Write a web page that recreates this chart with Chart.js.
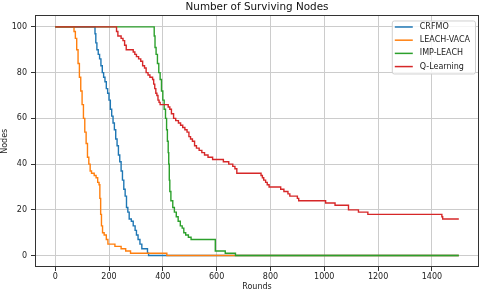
<!DOCTYPE html>
<html>
<head>
    <title>Number of Surviving Nodes</title>
    <script src="https://cdn.jsdelivr.net/npm/chart.js"></script>
    <style>
        body { margin: 0; background: #fff; }
    </style>
</head>
<body>
    <canvas id="nodesChart" width="480" height="292"></canvas>
    <script>
        // values (round where the count starts, nodes alive)
        const crfmoRounds = [0, 145, 148, 151, 155, 160, 165, 170, 175, 180, 185, 190, 195, 200, 205, 210, 215, 220, 225, 230, 235, 240, 245, 250, 255, 260, 265, 270, 275, 283, 290, 297, 302, 308, 315, 322, 343, 347, 1500];
        const crfmoNodes  = [100, 100, 97, 93, 90, 88, 86, 83, 80, 78, 76, 73, 71, 68, 64, 61, 58, 55, 51, 48, 44, 41, 37, 33, 29, 26, 21, 19, 16, 15, 13, 11, 9, 7, 5, 3, 1, 0, 0];

        const vacaRounds = [0, 65, 70, 75, 80, 85, 90, 95, 100, 105, 110, 115, 120, 125, 130, 135, 145, 152, 158, 163, 166, 169, 172, 176, 182, 190, 196, 222, 245, 262, 280, 415, 1500];
        const vacaNodes  = [100, 100, 98, 95, 90, 84, 78, 72, 66, 60, 54, 49, 43, 40, 37, 36, 35, 34, 32, 31, 25, 18, 13, 10, 9, 7, 5, 4, 3, 2, 1, 0, 0];

        const impRounds = [0, 365, 368, 371, 375, 380, 385, 390, 395, 400, 405, 410, 414, 417, 420, 422, 424, 426, 430, 437, 443, 450, 457, 465, 472, 478, 485, 495, 505, 595, 632, 670, 1500];
        const impNodes  = [100, 100, 96, 91, 88, 84, 80, 77, 72, 68, 64, 60, 55, 50, 45, 40, 33, 28, 24, 21, 19, 17, 15, 13, 12, 10, 9, 8, 7, 2, 1, 0, 0];

        const qlRounds = [0, 223, 228, 233, 245, 252, 258, 264, 290, 296, 302, 310, 318, 325, 332, 338, 345, 352, 362, 366, 370, 374, 378, 382, 386, 390, 420, 426, 432, 440, 448, 458, 466, 474, 482, 490, 497, 503, 510, 518, 525, 535, 545, 555, 568, 585, 625, 645, 660, 668, 675, 765, 770, 775, 782, 788, 795, 838, 850, 865, 872, 900, 905, 1005, 1040, 1090, 1127, 1162, 1437, 1440, 1500];
        const qlNodes  = [100, 100, 98, 96, 95, 94, 92, 90, 89, 88, 87, 86, 85, 83, 82, 80, 79, 78, 77, 75, 73, 71, 70, 68, 67, 66, 65, 64, 62, 60, 59, 58, 57, 56, 55, 54, 52, 51, 50, 48, 47, 46, 45, 44, 43, 42, 41, 40, 39, 38, 36, 35, 34, 33, 32, 31, 30, 29, 28, 27, 26, 25, 24, 23, 22, 20, 19, 18, 17, 16, 16];

        const seriesLabels = ['CRFMO', 'LEACH-VACA', 'IMP-LEACH', 'Q-Learning'];
        const seriesColors = ['#1f77b4', '#ff7f0e', '#2ca02c', '#d62728'];
        const xTicks = [0, 200, 400, 600, 800, 1000, 1200, 1400];
        const yTicks = [0, 20, 40, 60, 80, 100];

        const toPoints = (rounds, nodes) => rounds.map((r, i) => ({ x: r, y: nodes[i] }));
        const allSeries = [
            toPoints(crfmoRounds, crfmoNodes),
            toPoints(vacaRounds, vacaNodes),
            toPoints(impRounds, impNodes),
            toPoints(qlRounds, qlNodes)
        ];

        Chart.defaults.font.family = "'DejaVu Sans', sans-serif";
        Chart.defaults.color = '#222';

        // matplotlib-like frame and legend box inside the axes
        const frameAndLegend = {
            id: 'frameAndLegend',
            afterDatasetsDraw(chart) {
                const ctx = chart.ctx;
                const a = chart.chartArea;
                ctx.save();
                ctx.strokeStyle = '#333';
                ctx.lineWidth = 1;
                ctx.strokeRect(Math.round(a.left) + 0.5, Math.round(a.top) + 0.5,
                    Math.round(a.right - a.left) - 1, Math.round(a.bottom - a.top) - 1);

                ctx.font = "8px 'DejaVu Sans'";
                let maxW = 0;
                chart.data.datasets.forEach(ds => { maxW = Math.max(maxW, ctx.measureText(ds.label).width); });
                const w = 3 + 18 + 7 + maxW + 5;
                const h = 53;
                const left = a.right - 4 - w;
                const top = a.top + 5;
                ctx.beginPath();
                ctx.roundRect(left + 0.5, top + 0.5, w, h, 2);
                ctx.fillStyle = 'rgba(255,255,255,0.8)';
                ctx.fill();
                ctx.strokeStyle = '#d0d0d0';
                ctx.stroke();

                ctx.textBaseline = 'middle';
                ctx.textAlign = 'left';
                chart.data.datasets.forEach((ds, i) => {
                    const y = top + 6.5 + i * 13.2;
                    ctx.strokeStyle = ds.borderColor;
                    ctx.lineWidth = 1.5;
                    ctx.beginPath();
                    ctx.moveTo(left + 3, y);
                    ctx.lineTo(left + 21, y);
                    ctx.stroke();
                    ctx.fillStyle = '#222';
                    ctx.fillText(ds.label, left + 28, y);
                });
                ctx.restore();
            }
        };

        new Chart(document.getElementById('nodesChart'), {
            type: 'line',
            data: {
                datasets: allSeries.map((pts, i) => ({
                    label: seriesLabels[i],
                    data: pts,
                    borderColor: seriesColors[i],
                    backgroundColor: seriesColors[i],
                    borderWidth: 1.4,
                    pointRadius: 0,
                    stepped: 'before',
                    fill: false,
                    order: 4 - i
                }))
            },
            options: {
                responsive: false,
                animation: false,
                layout: { padding: { top: 0, left: 0, right: 1, bottom: 0 } },
                plugins: {
                    legend: { display: false },
                    tooltip: { enabled: false },
                    title: {
                        display: true,
                        fullSize: false,
                        text: 'Number of Surviving Nodes',
                        color: '#111',
                        font: { size: 10.4, weight: 'normal' },
                        padding: { top: 1, bottom: 2 }
                    }
                },
                scales: {
                    x: {
                        type: 'linear',
                        min: -75,
                        max: 1575,
                        afterBuildTicks: s => { s.ticks = xTicks.map(v => ({ value: v })); },
                        afterFit: s => { s.height = 25; },
                        ticks: { font: { size: 8 }, padding: 1, maxRotation: 0, callback: v => String(v) },
                        grid: { color: '#cccccc', tickColor: '#333', tickLength: 4 },
                        border: { display: false },
                        title: { display: true, text: 'Rounds', font: { size: 8 }, padding: 0 }
                    },
                    y: {
                        min: -5,
                        max: 105,
                        afterBuildTicks: s => { s.ticks = yTicks.map(v => ({ value: v })); },
                        afterFit: s => { s.width = 35; },
                        ticks: { font: { size: 8 }, padding: 4, callback: v => String(v) },
                        grid: { color: '#cccccc', tickColor: '#333', tickLength: 4 },
                        border: { display: false },
                        title: { display: true, text: 'Nodes', font: { size: 8 }, padding: 0 }
                    }
                }
            },
            plugins: [frameAndLegend]
        });
    </script>
</body>
</html>
